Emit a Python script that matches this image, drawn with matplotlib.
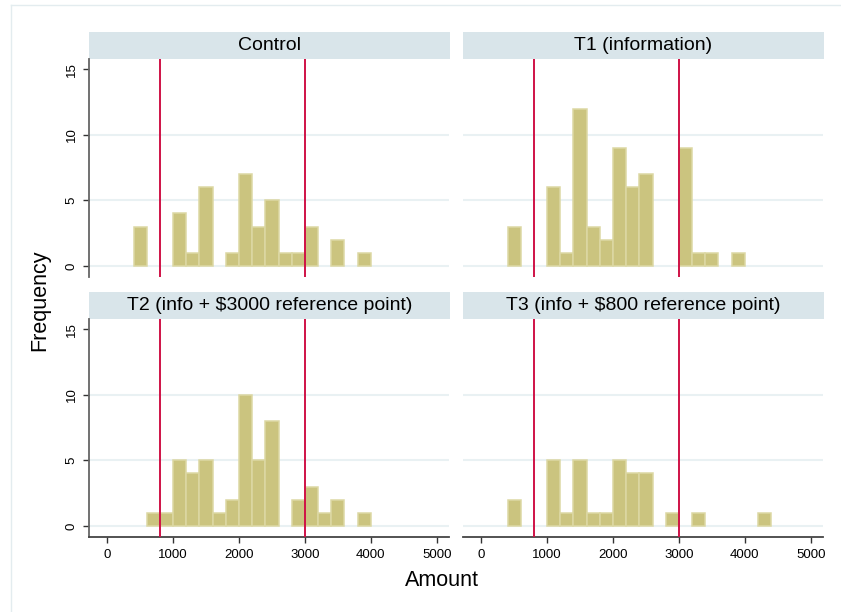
import numpy as np
import matplotlib
matplotlib.use("Agg")
from matplotlib import pyplot as plt
from matplotlib.lines import Line2D

plt.rcParams['font.family'] = ['Liberation Sans', 'DejaVu Sans']

# histogram bins: width 200, lefts from 0 to 4200
bin_width = 200
bin_lefts = np.arange(0, 4400, bin_width)

groups = ["Control", "T1 (information)",
          "T2 (info + $3000 reference point)", "T3 (info + $800 reference point)"]

#                 0  200 400 600 800 1k 1.2 1.4 1.6 1.8 2k 2.2 2.4 2.6 2.8 3k 3.2 3.4 3.6 3.8 4k 4.2
counts_control = [0, 0,  3,  0,  0,  4, 1,  6,  0,  1,  7, 3,  5,  1,  1,  3, 0,  2,  0,  1,  0, 0]
counts_t1      = [0, 0,  3,  0,  0,  6, 1,  12, 3,  2,  9, 6,  7,  0,  0,  9, 1,  1,  0,  1,  0, 0]
counts_t2      = [0, 0,  0,  1,  1,  5, 4,  5,  1,  2,  10, 5, 8,  0,  2,  3, 1,  2,  0,  1,  0, 0]
counts_t3      = [0, 0,  2,  0,  0,  5, 1,  5,  1,  1,  5, 4,  4,  0,  1,  0, 1,  0,  0,  0,  0, 1]
all_counts = [counts_control, counts_t1, counts_t2, counts_t3]

ref_lines = [800, 3000]
x_ticks = [0, 1000, 2000, 3000, 4000, 5000]
y_ticks = [0, 5, 10, 15]

W, H = 841, 612
fig = plt.figure(figsize=(W / 100, H / 100), dpi=100)

# faint outer frame (left and top edges only visible)
fig.add_artist(Line2D([10.5 / W, 10.5 / W], [0, 1 - 4.5 / H], color='#e3ecef', lw=1))
fig.add_artist(Line2D([10.5 / W, 1], [1 - 4.5 / H, 1 - 4.5 / H], color='#e3ecef', lw=1))

bar_fc = '#cbc47f'
bar_ec = '#dcd8a4'
red = '#cf1246'
grid_c = '#e9f1f3'

# panel geometry in pixels: (left, top of strip)
lefts = [89, 463, 89, 463]
strip_tops = [32, 32, 292, 292]
pw = 360
strip_h = 27
ph = 218

for i, (name, counts) in enumerate(zip(groups, all_counts)):
    L = lefts[i]
    st = strip_tops[i]
    # strip
    sax = fig.add_axes([L / W, 1 - (st + strip_h) / H, (pw + 1) / W, strip_h / H])
    sax.set_facecolor('#d9e5ea')
    for s in sax.spines.values():
        s.set_visible(False)
    sax.set_xticks([])
    sax.set_yticks([])
    sax.text(0.5, 0.5, name, ha='center', va='center', fontsize=14, color='black',
             transform=sax.transAxes)

    top = st + strip_h
    ax = fig.add_axes([L / W, 1 - (top + ph) / H, pw / W, ph / H])
    ax.set_xlim(-275, 5185)
    ax.set_ylim(-0.85, 15.8)

    c = np.array(counts)
    m = c > 0
    ax.bar(bin_lefts[m], c[m], width=bin_width, align='edge', color=bar_fc,
           edgecolor=bar_ec, linewidth=1.1, zorder=2)
    for r in ref_lines:
        ax.axvline(r, color=red, lw=1.4, zorder=3)
    for yv in [0, 5, 10]:
        ax.axhline(yv, color=grid_c, lw=1.5, zorder=1)

    for s in ['top', 'right']:
        ax.spines[s].set_visible(False)
    left_col = i in (0, 2)
    bottom_row = i in (2, 3)
    ax.spines['left'].set_visible(left_col)
    ax.spines['bottom'].set_visible(bottom_row)
    ax.spines['left'].set_color('#666666')
    ax.spines['bottom'].set_color('#444444')
    ax.spines['left'].set_linewidth(1.3)
    ax.spines['bottom'].set_linewidth(1.3)

    if left_col:
        ax.set_yticks(y_ticks)
        ax.set_yticklabels([str(v) for v in y_ticks], rotation=90, va='center', fontsize=9.5)
        ax.tick_params(axis='y', length=4, width=1, color='#333333', pad=4)
    else:
        ax.set_yticks([])
    if bottom_row:
        ax.set_xticks(x_ticks)
        ax.set_xticklabels([str(v) for v in x_ticks], fontsize=9.5)
        ax.tick_params(axis='x', length=4, width=1, color='#333333', pad=5)
    else:
        ax.set_xticks([])
    ax.set_facecolor('white')

fig.text(442 / W, 1 - 581 / H, "Amount", ha='center', va='center', fontsize=15.5)
fig.text(40 / W, 1 - 300 / H, "Frequency", ha='center', va='center', rotation=90, fontsize=15.5)

fig.savefig("out.png", dpi=100)
